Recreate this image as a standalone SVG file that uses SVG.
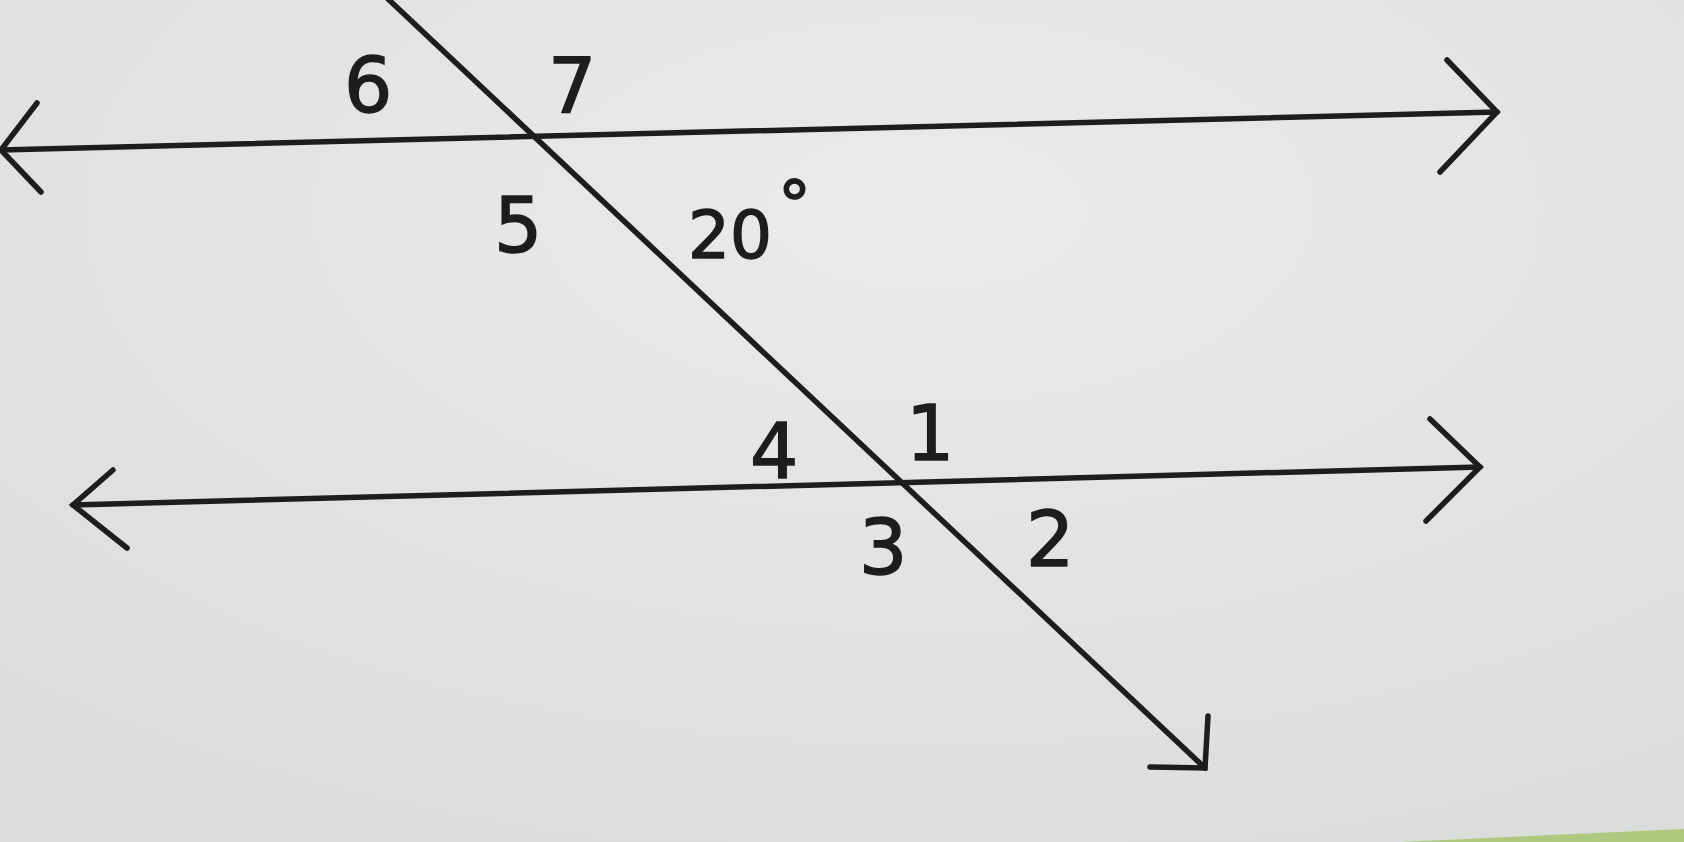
<svg xmlns="http://www.w3.org/2000/svg" width="1684" height="842" viewBox="0 0 1684 842">
  <defs>
    <radialGradient id="bg" cx="0.55" cy="0.25" r="0.9">
      <stop offset="0" stop-color="#e9ebe8"/>
      <stop offset="1" stop-color="#d9dcd8"/>
    </radialGradient>
    <style>
      .ln { stroke: #1c1e1e; stroke-width: 5.5; fill: none; stroke-linecap: round; stroke-linejoin: miter; }
      .lbl { font-family: "DejaVu Sans", "Liberation Sans", sans-serif; font-size: 76px; fill: #1c1e1e; stroke: #1c1e1e; stroke-width: 1.5; }
      .deg { font-family: "DejaVu Sans", "Liberation Sans", sans-serif; font-size: 66px; fill: #1c1e1e; stroke: #1c1e1e; stroke-width: 1.5; }
    </style>
  </defs>
  <rect width="1684" height="842" fill="url(#bg)"/>
  <polygon points="1400,842 1684,829 1684,842" fill="#9cbf5a" opacity="0.7"/>

  <g id="connectors">
    <g id="line-top">
      <line class="ln" x1="1" y1="150" x2="1497" y2="112"/>
      <polyline class="ln" points="37,103 1,150 41,192"/>
      <polyline class="ln" points="1447,60 1497,112 1440,172"/>
    </g>
    <g id="line-bottom">
      <line class="ln" x1="73" y1="505" x2="1480" y2="467"/>
      <polyline class="ln" points="113,470 73,505 127,548"/>
      <polyline class="ln" points="1430,419 1480,467 1426,521"/>
    </g>
    <g id="transversal">
      <line class="ln" x1="387" y1="-2" x2="1205" y2="768"/>
      <polyline class="ln" points="1208,716 1205,768 1150,767"/>
    </g>
  </g>

  <g id="label-6"><text class="lbl" x="344" y="112">6</text></g>
  <g id="label-7"><text class="lbl" x="548" y="113">7</text></g>
  <g id="label-5"><text class="lbl" x="494" y="252">5</text></g>
  <g id="label-20"><text class="deg" x="688" y="258">20</text><text class="deg" x="778" y="228" font-size="44">°</text></g>
  <g id="label-4"><text class="lbl" x="750" y="478">4</text></g>
  <g id="label-1"><text class="lbl" x="906" y="460">1</text></g>
  <g id="label-3"><text class="lbl" x="859" y="574">3</text></g>
  <g id="label-2"><text class="lbl" x="1026" y="566">2</text></g>
</svg>
